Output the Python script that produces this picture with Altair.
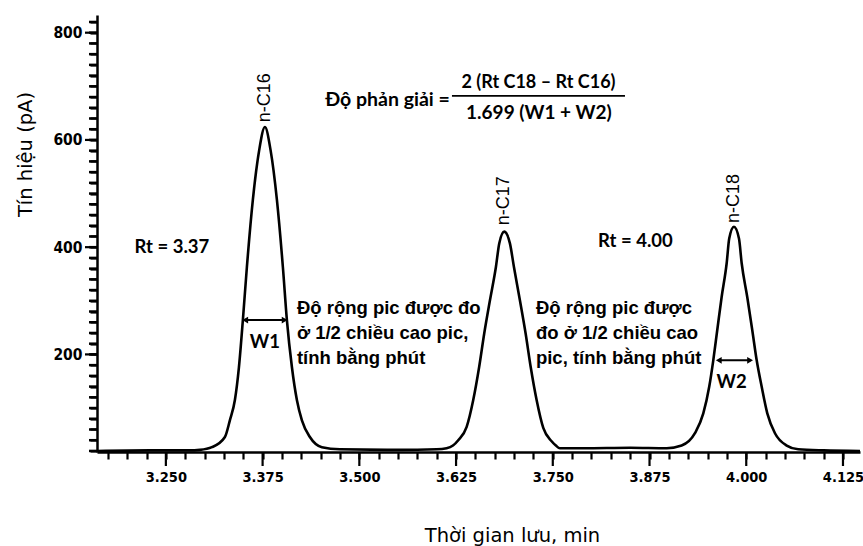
import altair as alt
import pandas as pd

# Chromatogram trace (retention time in min, signal in pA)
time_min = [3.161, 3.229, 3.280, 3.294, 3.3095, 3.3263, 3.3327, 3.3392, 3.3444, 3.3495,
            3.3547, 3.3624, 3.3706, 3.378, 3.3853, 3.3935, 3.4012, 3.4064, 3.4129, 3.4193,
            3.4258, 3.4361, 3.4516, 3.475, 3.55, 3.600, 3.6128, 3.6210, 3.6278, 3.6387,
            3.6472, 3.6549, 3.6614, 3.6688, 3.6765, 3.6808, 3.6873, 3.6946, 3.6998, 3.7075,
            3.7149, 3.7214, 3.7291, 3.7377, 3.7485, 3.7540, 3.7592, 3.79, 3.85, 3.8972,
            3.9165, 3.9337, 3.9445, 3.9522, 3.9574, 3.9625, 3.9682, 3.9747, 3.978, 3.9841,
            3.9906, 3.9941, 4.0013, 4.0078, 4.0135, 4.0199, 4.0272, 4.0371, 4.0523, 4.0672,
            4.10, 4.147]
signal_pa = [20, 21, 21, 22, 27, 46, 77, 115, 176, 264,
             363, 488, 581, 624, 581, 488, 363, 264, 176, 115,
             77, 46, 27, 23, 22, 23, 25, 30, 40, 65,
             115, 177, 239, 301, 363, 407, 429, 407, 363, 301,
             239, 177, 115, 63, 38, 30, 25, 25, 26, 25,
             30, 53, 90, 140, 189, 245, 307, 370, 416, 438,
             416, 370, 307, 245, 189, 140, 90, 53, 30, 23,
             21, 20]

# axis ticks: minor every 0.025 min / 20 pA, labelled majors
x_ticks = [round(3.175 + 0.025 * i, 3) for i in range(39)]
y_ticks = [20 * i for i in range(1, 42)]
x_major = [3.250, 3.375, 3.500, 3.625, 3.750, 3.875, 4.000, 4.125]
y_major = [200, 400, 600, 800]

df = pd.DataFrame({"t": time_min, "s": signal_pa})
df_xmaj = pd.DataFrame({"t": x_major})
df_ymaj = pd.DataFrame({"s": y_major})
df_ymin = pd.DataFrame({"s": y_ticks})

XDOM = [3.161, 4.147]
YDOM = [18, 833]

COND = "DejaVu Sans Condensed, DejaVu Sans, sans-serif"
BOLDF = "Lato, Open Sans, sans-serif"
ARIAL = "Liberation Sans, Arial, sans-serif"

x_scale = alt.Scale(domain=XDOM, nice=False, zero=False)
y_scale = alt.Scale(domain=YDOM, nice=False, zero=False)

x_axis = alt.Axis(
    values=x_ticks,
    labelExpr="(round(datum.value*1000) % 125 === 0) ? format(datum.value, '.3f') : ''",
    title="Thời gian lưu, min",
    titleFont="DejaVu Sans",
    titleFontSize=19.5,
    titleFontWeight="normal",
    titleX=415,
    titleY=83,
    titleBaseline="middle",
    titleAlign="center",
    labelFont=COND,
    labelFontSize=14.5,
    labelFontWeight="bold",
    labelColor="black",
    labelPadding=11,
    labelOverlap=False,
    labelFlush=False,
    labelBound=False,
    tickSize=7,
    tickWidth=2.2,
    tickColor="black",
    domainColor="black",
    domainWidth=2.5,
    grid=False,
)
y_axis = alt.Axis(
    values=y_ticks,
    labelExpr="datum.value % 200 === 0 ? datum.value : ''",
    title="Tín hiệu (pA)",
    titleFont="DejaVu Sans",
    titleFontSize=19.5,
    titleFontWeight="normal",
    titleX=-72,
    titleY=139,
    titleAngle=270,
    titleBaseline="middle",
    titleAlign="center",
    labelFont=COND,
    labelFontSize=15.5,
    labelFontWeight="bold",
    labelColor="black",
    labelPadding=8,
    labelOverlap=False,
    labelFlush=False,
    labelBound=False,
    tickSize=7,
    tickWidth=2.2,
    tickColor="black",
    domainColor="black",
    domainWidth=2.5,
    grid=False,
)

trace = alt.Chart(df).mark_line(color="black", strokeWidth=2.6, interpolate="monotone").encode(
    x=alt.X("t:Q", scale=x_scale, axis=x_axis),
    y=alt.Y("s:Q", scale=y_scale, axis=y_axis),
)

# tick marks drawn explicitly: longer majors on both axes, minors on the y axis
xmaj = alt.Chart(df_xmaj).mark_rule(color="black", strokeWidth=2.2).encode(
    x=alt.X("t:Q", scale=x_scale, axis=x_axis), y=alt.value(437), y2=alt.value(451)
)
ymaj = alt.Chart(df_ymaj).mark_rule(color="black", strokeWidth=2.2).encode(
    y=alt.Y("s:Q", scale=y_scale, axis=y_axis), x=alt.value(-12), x2=alt.value(0)
)
ymin = alt.Chart(df_ymin).mark_rule(color="black", strokeWidth=2.5).encode(
    y=alt.Y("s:Q", scale=y_scale, axis=y_axis), x=alt.value(-8), x2=alt.value(0)
)

one = alt.Data(values=[{}])


def X(t):
    return alt.XDatum(t, type="quantitative", scale=x_scale, axis=x_axis)


def Y(s):
    return alt.YDatum(s, type="quantitative", scale=y_scale, axis=y_axis)


def txt(t, s, text, **kw):
    return alt.Chart(one).mark_text(text=text, **kw).encode(x=X(t), y=Y(s))


def rule(t1, t2, s, w):
    return alt.Chart(one).mark_rule(color="black", strokeWidth=w).encode(
        x=X(t1), x2=alt.X2Datum(t2), y=Y(s)
    )


def head(t, s, shape):
    return alt.Chart(one).mark_point(shape=shape, filled=True, color="black", size=45, opacity=1).encode(
        x=X(t), y=Y(s)
    )


layers = [trace, xmaj, ymaj, ymin]

# peak labels
for t, s, lab in [(3.378, 633, "n-C16"), (3.6873, 441, "n-C17"), (3.984, 445, "n-C18")]:
    layers.append(txt(t, s, lab, angle=270, align="left", baseline="middle",
                      font=ARIAL, fontSize=18, color="black"))

# retention time labels
layers.append(txt(3.2578, 400, "Rt = 3.37", align="center", baseline="middle",
                  font=BOLDF, fontWeight="bold", fontSize=18.5, color="black"))
layers.append(txt(3.8568, 411, "Rt = 4.00", align="center", baseline="middle",
                  font=BOLDF, fontWeight="bold", fontSize=18.5, color="black"))

# resolution formula
layers.append(txt(3.617, 674, "Độ phản giải =", align="right", baseline="middle",
                  font=BOLDF, fontWeight="bold", fontSize=19.5, color="black"))
layers.append(txt(3.7315, 706, "2 (Rt C18 – Rt C16)", align="center", baseline="middle",
                  font=BOLDF, fontWeight="bold", fontSize=18, color="black"))
layers.append(rule(3.6197, 3.8433, 682, 1.8))
layers.append(txt(3.7321, 650, "1.699 (W1 + W2)", align="center", baseline="middle",
                  font=BOLDF, fontWeight="bold", fontSize=19, color="black"))

# width annotations
layers.append(txt(3.4193, 276, ["Độ rộng pic được đo", "ở 1/2 chiều cao pic,", "tính bằng phút"],
                  align="left", baseline="alphabetic", lineHeight=25,
                  font=ARIAL, fontWeight="bold", fontSize=18.5, color="black"))
layers.append(txt(3.7282, 276, ["Độ rộng pic được", "đo ở 1/2 chiều cao", "pic, tính bằng phút"],
                  align="left", baseline="alphabetic", lineHeight=25,
                  font=ARIAL, fontWeight="bold", fontSize=18.5, color="black"))

# W1 / W2 arrows
layers.append(rule(3.3520, 3.4040, 264, 2))
layers.append(head(3.3525, 264, "triangle-left"))
layers.append(head(3.4035, 264, "triangle-right"))
layers.append(txt(3.378, 223, "W1", align="center", baseline="middle",
                  font=BOLDF, fontWeight="bold", fontSize=18.5, color="black"))
layers.append(rule(3.9640, 4.0055, 189, 2))
layers.append(head(3.9645, 189, "triangle-left"))
layers.append(head(4.0050, 189, "triangle-right"))
layers.append(txt(3.9812, 149, "W2", align="center", baseline="middle",
                  font=BOLDF, fontWeight="bold", fontSize=18.5, color="black"))

chart = (
    alt.layer(*layers)
    .properties(
        width=763,
        height=437,
        padding={"left": 97, "top": 15, "right": 3, "bottom": 94},
        autosize=alt.AutoSizeParams(type="none"),
        background="white",
    )
    .configure_view(stroke=None)
)

chart.save("out.html", embed_options={"renderer": "svg", "actions": False})
